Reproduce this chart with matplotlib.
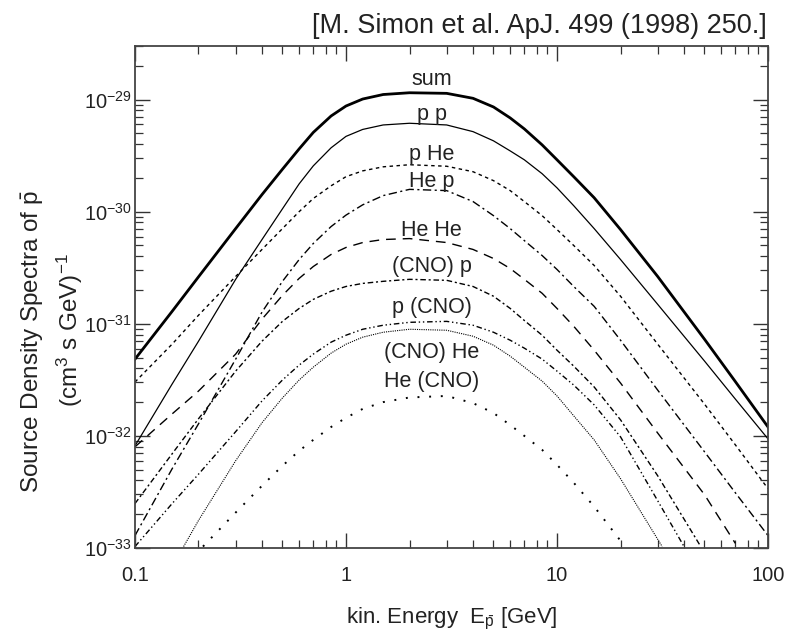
import math
import matplotlib
matplotlib.use("Agg")
import matplotlib.pyplot as plt
from matplotlib.ticker import FixedLocator, FuncFormatter, NullFormatter

plt.rcParams["font.family"] = ["Liberation Sans", "DejaVu Sans"]
plt.rcParams["mathtext.fontset"] = "custom"
plt.rcParams["mathtext.rm"] = "Liberation Sans"
plt.rcParams["mathtext.it"] = "Liberation Sans:italic"

# kinetic energy grid (GeV)
E_GRID = [0.1, 0.15, 0.2, 0.3, 0.4, 0.5, 0.6, 0.7, 0.85, 1, 1.2, 1.5, 2, 3, 4, 5, 6, 7,
          8.5, 10, 12, 15, 20, 30, 50, 70, 100]

# source density spectra (cm^3 s GeV)^-1
sum_vals = [4.83e-32, 1.29e-31, 2.62e-31, 7.06e-31, 1.42e-30, 2.39e-30, 3.63e-30, 5.09e-30,
            7.13e-30, 8.75e-30, 1.01e-29, 1.108e-29, 1.149e-29, 1.135e-29, 1.025e-29, 8.58e-30,
            6.85e-30, 5.47e-30, 3.94e-30, 2.9e-30, 2.05e-30, 1.33e-30, 6.92e-31, 2.64e-31,
            7.28e-32, 3.05e-32, 1.2e-32]
pp_vals = [8.15e-33, 2.9e-32, 6.98e-32, 2.49e-31, 5.64e-31, 1.06e-30, 1.77e-30, 2.56e-30,
           3.71e-30, 4.69e-30, 5.41e-30, 5.93e-30, 6.14e-30, 5.93e-30, 5.17e-30, 4.28e-30,
           3.48e-30, 2.9e-30, 2.18e-30, 1.63e-30, 1.13e-30, 7.06e-31, 3.74e-31, 1.49e-31,
           4.65e-32, 2.13e-32, 9.4e-33]
phe_vals = [3.02e-32, 6.58e-32, 1.19e-31, 2.64e-31, 4.6e-31, 7.06e-31, 1.0e-30, 1.31e-30,
            1.7e-30, 2.05e-30, 2.31e-30, 2.51e-30, 2.62e-30, 2.54e-30, 2.27e-30, 1.89e-30,
            1.54e-30, 1.23e-30, 9.21e-31, 6.92e-31, 4.99e-31, 3.31e-31, 1.76e-31, 6.58e-32,
            1.92e-32, 8.32e-33, 3.38e-33]
hep_vals = [1.29e-33, 5.09e-33, 1.28e-32, 4.83e-32, 1.27e-31, 2.39e-31, 3.74e-31, 5.2e-31,
            7.36e-31, 9.31e-31, 1.15e-30, 1.39e-30, 1.58e-30, 1.54e-30, 1.23e-30, 9.21e-31,
            7.06e-31, 5.52e-31, 4.06e-31, 3.05e-31, 2.15e-31, 1.43e-31, 7.13e-32, 2.56e-32,
            7.21e-33, 3.11e-33, 1.29e-33]

hehe_E = E_GRID[:-1]
hehe_vals = [7.98e-33, 1.57e-32, 2.51e-32, 5.36e-32, 1.1e-31, 1.79e-31, 2.54e-31, 3.24e-31,
             4.15e-31, 4.79e-31, 5.3e-31, 5.64e-31, 5.75e-31, 5.3e-31, 4.6e-31, 3.82e-31,
             3.11e-31, 2.49e-31, 1.87e-31, 1.37e-31, 9.5e-32, 5.81e-32, 2.96e-32, 1.06e-32,
             2.99e-33, 1.1e-33]

cnop_E = E_GRID[:23] + [30, 48]
cnop_vals = [2.49e-33, 6.92e-33, 1.42e-32, 3.78e-32, 6.99e-32, 1.05e-31, 1.37e-31, 1.65e-31,
             1.95e-31, 2.15e-31, 2.29e-31, 2.39e-31, 2.49e-31, 2.44e-31, 2.15e-31, 1.76e-31,
             1.37e-31, 1.07e-31, 7.9e-32, 5.81e-32, 4.19e-32, 2.73e-32, 1.39e-32, 4.41e-33,
             1.03e-33]

pcno_E = E_GRID[:23] + [30, 40]
pcno_vals = [1.03e-33, 2.49e-33, 4.55e-33, 1.09e-32, 2.05e-32, 3.15e-32, 4.28e-32, 5.36e-32,
             6.85e-32, 7.9e-32, 8.93e-32, 9.7e-32, 1.03e-31, 1.05e-31, 9.7e-32, 8.4e-32,
             7.13e-32, 6.06e-32, 4.84e-32, 3.78e-32, 2.84e-32, 1.89e-32, 9.8e-33, 2.64e-33,
             1.03e-33]

cnohe_E = [0.17, 0.2, 0.3, 0.4, 0.5, 0.6, 0.7, 0.85, 1, 1.2, 1.5, 2, 3, 4, 5, 6, 7, 8.5,
           10, 12, 15, 20, 31.5]
cnohe_vals = [1.03e-33, 1.76e-33, 6.0e-33, 1.31e-32, 2.18e-32, 3.15e-32, 4.1e-32, 5.47e-32,
              6.57e-32, 7.59e-32, 8.4e-32, 8.93e-32, 8.75e-32, 7.74e-32, 6.44e-32, 5.14e-32,
              4.1e-32, 3.08e-32, 2.27e-32, 1.51e-32, 9.21e-33, 4.15e-33, 1.03e-33]

hecno_E = [0.21, 0.3, 0.4, 0.5, 0.6, 0.7, 0.85, 1, 1.2, 1.5, 2, 3, 4, 5, 6, 7, 8.5, 10,
           12, 15, 21]
hecno_vals = [1.03e-33, 2.07e-33, 3.59e-33, 5.41e-33, 7.36e-33, 9.21e-33, 1.2e-32, 1.45e-32,
              1.74e-32, 2.0e-32, 2.2e-32, 2.27e-32, 1.96e-32, 1.6e-32, 1.25e-32, 1.0e-32,
              7.51e-33, 5.52e-33, 3.82e-33, 2.34e-33, 1.03e-33]

curve_names = ["sum", "p p", "p He", "He p", "He He", "(CNO) p", "p (CNO)", "(CNO) He", "He (CNO)"]
label_E = 2.55
label_y = [1.52e-29, 7.28e-30, 3.21e-30, 1.85e-30, 6.78e-31, 3.24e-31, 1.40e-31, 5.58e-32, 3.08e-32]

fig = plt.figure(figsize=(7.93, 6.33), dpi=100)
ax = fig.add_axes([0.1702, 0.1343, 0.7983, 0.793])

ax.plot(E_GRID, sum_vals, color="black", lw=2.0, ls="-")
ax.plot(E_GRID, pp_vals, color="black", lw=0.9, ls="-")
ax.plot(E_GRID, phe_vals, color="black", lw=1.0, ls=(0, (2.5, 2.5)))
ax.plot(E_GRID, hep_vals, color="black", lw=1.0, ls=(0, (6, 2.5, 1.5, 2.5)))
ax.plot(hehe_E, hehe_vals, color="black", lw=1.0, ls=(0, (7, 5)))
ax.plot(cnop_E, cnop_vals, color="black", lw=1.0, ls=(0, (4, 2, 1.5, 2)))
ax.plot(pcno_E, pcno_vals, color="black", lw=1.0, ls=(0, (4, 2, 1, 2, 1, 2)))
ax.plot(cnohe_E, cnohe_vals, color="black", lw=0.8, ls=(0, (1, 1)))
ax.plot(hecno_E, hecno_vals, color="black", lw=1.4, ls=(0, (1, 5)))

for name, ly in zip(curve_names, label_y):
    ax.text(label_E, ly, name, ha="center", va="center", fontsize=15.5, color="#222222")

ax.set_xscale("log")
ax.set_yscale("log")
ax.set_xlim(0.1, 100)
ax.set_ylim(1e-33, 3e-29)

xlabels = {0.1: "0.1", 1: "1", 10: "10", 100: "100"}
ax.xaxis.set_major_locator(FixedLocator([0.1, 1, 10, 100]))
ax.xaxis.set_major_formatter(FuncFormatter(lambda v, p: xlabels.get(round(v, 1), "")))
ax.xaxis.set_minor_locator(FixedLocator([m * d for d in (0.1, 1, 10) for m in range(2, 10)]))
ax.xaxis.set_minor_formatter(NullFormatter())

decades = [1e-33, 1e-32, 1e-31, 1e-30, 1e-29]
ax.yaxis.set_major_locator(FixedLocator(decades))
ax.yaxis.set_major_formatter(FuncFormatter(lambda v, p: r"$\mathregular{10^{%d}}$" % round(math.log10(v))))
ax.yaxis.set_minor_locator(FixedLocator([m * d for d in decades for m in range(2, 10)]))
ax.yaxis.set_minor_formatter(NullFormatter())

ax.tick_params(which="both", direction="in", top=True, right=True, colors="#333333",
               labelcolor="#222222", labelsize=14.5)
ax.tick_params(which="major", length=11, width=1.0)
ax.tick_params(which="minor", length=6, width=0.9)
ax.tick_params(axis="x", pad=13)
ax.tick_params(axis="y", pad=2)
for s in ax.spines.values():
    s.set_linewidth(1.3)
    s.set_color("#444444")

fig.text(0.967, 0.948, "[M. Simon et al. ApJ. 499 (1998) 250.]", ha="right", va="baseline",
         fontsize=19.5, color="#222222")
fig.text(0.0416, 0.4597, r"Source Density Spectra of $\bar{\mathrm{p}}$", rotation=90,
         ha="center", va="center", fontsize=17.5, color="#222222")
fig.text(0.0883, 0.4787, r"(cm$^{3}$ s GeV)$^{-1}$", rotation=90,
         ha="center", va="center", fontsize=17.5, color="#222222")
fig.text(0.570, 0.0158, r"kin. Energy  E$_{\bar{\mathrm{p}}}$ [GeV]", ha="center", va="baseline",
         fontsize=16, color="#222222")

fig.savefig("out.png", dpi=100)
